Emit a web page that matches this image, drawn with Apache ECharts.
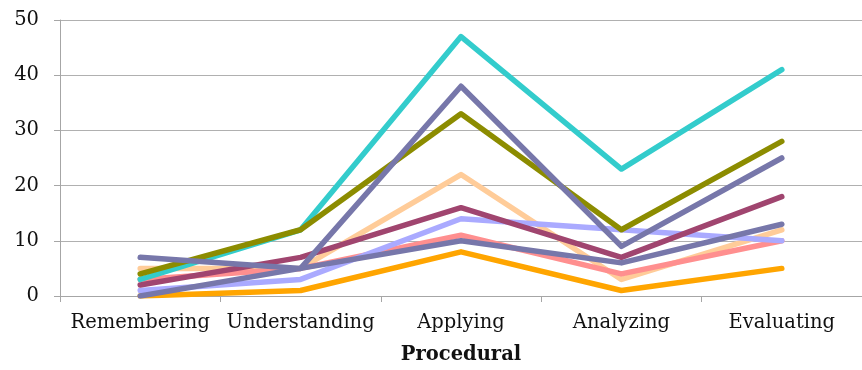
<!DOCTYPE html>
<html>
<head>
<meta charset="utf-8">
<script src="https://cdn.jsdelivr.net/npm/echarts@6/dist/echarts.min.js"></script>
<style>
  html, body { margin: 0; padding: 0; background: #fff; overflow: hidden; }
  #chart { width: 862px; height: 370px; }
</style>
</head>
<body>
<div id="chart"></div>
<script>
// categories along x
const categories = ["Remembering", "Understanding", "Applying", "Analyzing", "Evaluating"];

// series values (drawing order: first is at the bottom)
const peach = [5, 5, 22, 3, 12];
const salmon = [3, 5, 11, 4, 10];
const lightBlue = [1, 3, 14, 12, 10];
const orange = [0, 1, 8, 1, 5];
const maroon = [2, 7, 16, 7, 18];
const cyan = [3, 12, 47, 23, 41];
const olive = [4, 12, 33, 12, 28];
const slateLow = [0, 5, 10, 6, 13];
const slateHigh = [7, 5, 38, 9, 25];

const yTicks = [0, 10, 20, 30, 40, 50];

const seriesList = [
  { name: "Series 1", data: peach, color: "#FFCC99" },
  { name: "Series 2", data: salmon, color: "#FF8F8F" },
  { name: "Series 3", data: lightBlue, color: "#AAAAFF" },
  { name: "Series 4", data: orange, color: "#FFA500" },
  { name: "Series 5", data: maroon, color: "#A0456F" },
  { name: "Series 6", data: cyan, color: "#33CCCC" },
  { name: "Series 7", data: olive, color: "#8C8C00" },
  { name: "Series 8", data: slateLow, color: "#7777AA" },
  { name: "Series 9", data: slateHigh, color: "#7777AA" }
];

const font = "DejaVu Serif";

let chart = echarts.init(document.getElementById("chart"), null, { renderer: "canvas" });

let option = {
  animation: false,
  grid: {
    left: 60,
    top: 20,
    width: 810,
    bottom: 70,
    containLabel: false
  },
  xAxis: {
    type: "category",
    data: categories,
    boundaryGap: true,
    name: "Procedural",
    nameLocation: "middle",
    nameGap: 49,
    nameTextStyle: { fontFamily: font, fontSize: 19.5, fontWeight: "bold", color: "#111" },
    axisLine: { show: true, lineStyle: { color: "#A6A6A6", width: 1 } },
    axisTick: { show: true, length: 6, alignWithLabel: false, interval: 0, lineStyle: { color: "#A6A6A6" } },
    axisLabel: { fontFamily: font, fontSize: 19.5, color: "#111", margin: 17, interval: 0, hideOverlap: false }
  },
  yAxis: {
    type: "value",
    min: yTicks[0],
    max: yTicks[yTicks.length - 1],
    interval: 10,
    axisLine: { show: true, lineStyle: { color: "#A6A6A6", width: 1 } },
    axisTick: { show: true, length: 6, lineStyle: { color: "#A6A6A6" } },
    splitLine: { show: true, lineStyle: { color: "#B0B0B0", width: 1 } },
    axisLabel: { fontFamily: font, fontSize: 19.5, color: "#111", margin: 21 }
  },
  series: seriesList.map(function (s) {
    return {
      name: s.name,
      type: "line",
      data: s.data,
      showSymbol: false,
      symbol: "none",
      lineStyle: { color: s.color, width: 5.5, cap: "round", join: "round" },
      itemStyle: { color: s.color }
    };
  })
};

chart.setOption(option);
</script>
</body>
</html>
